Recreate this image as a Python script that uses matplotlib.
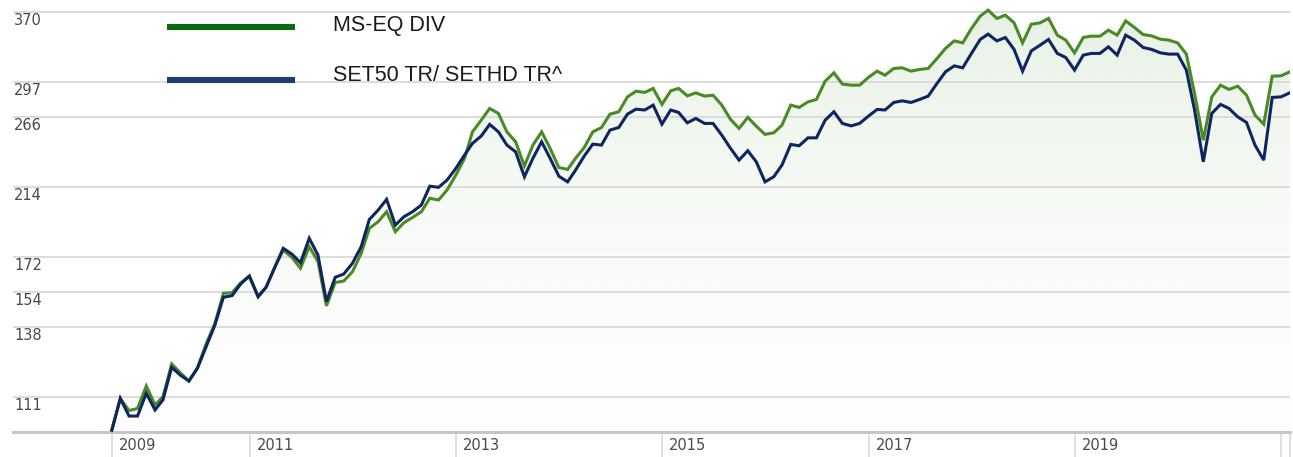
import numpy as np
import pandas as pd
import matplotlib
matplotlib.use("Agg")
import matplotlib.pyplot as plt
import matplotlib.dates as mdates
from matplotlib.lines import Line2D
from matplotlib.transforms import blended_transform_factory, offset_copy

# monthly values, Aug 2009 .. Jan 2021 (rebased to 100)
dates = pd.date_range("2009-08-31", periods=138, freq="ME")

ms_eq_div = [
    100.0, 110.4, 106.3, 107.0, 114.8, 108.2, 111.0, 123.0, 119.7, 116.6,
    121.5, 131.0, 139.6, 153.4, 153.7, 158.5, 161.9, 151.8, 156.3, 166.4,
    175.6, 171.6, 165.9, 177.5, 169.5, 147.5, 158.7, 159.4, 164.1, 173.8,
    188.0, 191.9, 198.0, 186.0, 191.3, 194.5, 198.0, 206.5, 205.4, 211.9,
    222.0, 234.0, 254.2, 263.7, 273.5, 269.3, 254.2, 246.4, 228.5, 243.9,
    254.2, 241.4, 227.4, 226.0, 234.0, 242.1, 254.2, 257.7, 268.7, 270.7,
    283.6, 288.7, 287.6, 291.2, 277.0, 289.0, 291.2, 284.5, 287.2, 284.3,
    285.1, 276.4, 264.3, 257.0, 266.0, 258.8, 252.2, 253.5, 259.6, 276.4,
    274.4, 279.2, 281.3, 297.9, 305.8, 295.2, 294.2, 294.2, 301.4, 307.4,
    303.5, 310.0, 310.6, 307.4, 309.0, 310.0, 319.8, 330.0, 337.9, 335.8,
    351.3, 365.1, 372.0, 362.5, 366.2, 357.5, 335.8, 356.0, 357.5, 362.5,
    344.0, 338.7, 325.5, 341.5, 342.9, 342.9, 349.4, 344.0, 359.7, 352.4,
    344.7, 343.2, 339.7, 338.7, 335.8, 324.2, 286.7, 247.7, 283.6, 294.2,
    290.3, 293.3, 285.1, 267.9, 260.4, 302.6, 302.9, 306.7,
]

set50_sethd = [
    100.0, 110.4, 104.5, 104.5, 112.2, 106.5, 109.9, 121.7, 118.8, 116.6,
    121.3, 129.8, 138.9, 151.5, 152.3, 157.9, 161.9, 151.8, 156.3, 166.4,
    176.6, 173.4, 168.8, 182.2, 172.9, 149.5, 161.3, 162.9, 168.5, 177.5,
    193.3, 199.0, 205.8, 189.9, 194.9, 198.0, 202.2, 214.5, 213.7, 218.6,
    226.7, 236.4, 245.2, 250.9, 260.2, 254.2, 243.9, 238.8, 220.9, 234.0,
    246.4, 234.0, 221.3, 217.4, 225.5, 235.7, 244.6, 243.9, 255.6, 257.7,
    268.7, 272.9, 272.2, 276.4, 260.4, 272.2, 270.1, 261.5, 265.1, 261.0,
    261.0, 251.6, 241.4, 232.7, 239.6, 231.5, 217.4, 220.9, 229.1, 244.4,
    243.4, 249.5, 249.5, 263.7, 270.7, 261.0, 259.0, 261.0, 267.0, 272.7,
    272.2, 278.7, 280.1, 278.7, 281.3, 284.3, 295.8, 306.7, 312.5, 310.6,
    324.9, 339.4, 345.1, 337.9, 341.5, 329.0, 307.4, 327.5, 333.4, 339.4,
    324.9, 320.8, 308.4, 323.2, 324.9, 324.9, 331.7, 323.2, 344.0, 338.7,
    331.0, 329.0, 325.5, 324.2, 324.2, 308.4, 272.2, 231.5, 269.3, 277.0,
    273.5, 266.4, 261.8, 243.9, 232.7, 283.1, 283.6, 287.2,
]

y_ticks = [111, 138, 154, 172, 214, 266, 297, 370]
x_tick_dates = ["2009-08-31", "2011-01-01", "2013-01-01", "2015-01-01",
                "2017-01-01", "2019-01-01", "2021-01-01"]
x_tick_labels = ["2009", "2011", "2013", "2015", "2017", "2019", ""]

W, H = 1293, 457
fig = plt.figure(figsize=(W / 100, H / 100), dpi=100)
ax = fig.add_axes([12.7 / W, 25.3 / H, (1290 - 12.7) / W, 431.7 / H])

ax.set_yscale("log")
ylo, yhi = 99.5, 384
ax.set_ylim(ylo, yhi)
xlo = mdates.date2num(pd.Timestamp("2008-09-14"))
xhi = mdates.date2num(pd.Timestamp("2021-02-01"))
ax.set_xlim(xlo, xhi)

for s in ["top", "left", "right"]:
    ax.spines[s].set_visible(False)
ax.spines["bottom"].set_color("#c6c6c6")
ax.spines["bottom"].set_linewidth(2.2)
ax.set_xticks([])
ax.set_yticks([])
ax.yaxis.set_minor_locator(matplotlib.ticker.NullLocator())

# gridlines + labels just under each line
ytr = blended_transform_factory(ax.transAxes, ax.transData)
for v in y_ticks:
    ax.axhline(v, color="#d9d9d9", lw=1.3, zorder=1)
    ax.text(0.001, v, str(v), transform=offset_copy(ytr, fig=fig, x=0, y=-1, units="dots"),
            ha="left", va="top", fontsize=10.5, color="#4a4a4a",
            family="DejaVu Sans", zorder=5)

# gradient fill under the green line
xd = mdates.date2num(dates)
poly = ax.fill_between(xd, ms_eq_div, ylo, facecolor="none", edgecolor="none")
top_c = np.array([0.905, 0.940, 0.893])
grad = np.linspace(0, 1, 256)[:, None]
img = top_c[None, None, :] * (1 - grad[..., None]) + np.ones(3) * grad[..., None]
img = np.repeat(img, 2, axis=1)
im = ax.imshow(img, extent=[xlo, xhi, ylo, yhi], origin="upper", aspect="auto",
               zorder=0.5, interpolation="bilinear")
im.set_clip_path(poly.get_paths()[0], transform=ax.transData)
ax.set_xlim(xlo, xhi)
ax.set_ylim(ylo, yhi)

ax.plot(xd, ms_eq_div, color="#4a8a26", lw=2.2, zorder=3, solid_joinstyle="miter")
ax.plot(xd, set50_sethd, color="#0f2560", lw=2.2, zorder=4, solid_joinstyle="miter")

# x separators and labels below the axis
xtr = blended_transform_factory(ax.transData, ax.transAxes)
sep_bottom = -25.3 / 431.7
sep_x = [mdates.date2num(pd.Timestamp(d)) for d in x_tick_dates] + [xhi - 0.5]
for x in sep_x:
    ax.add_line(Line2D([x, x], [0, sep_bottom], transform=xtr, color="#dadada",
                       lw=1.2, clip_on=False))
for d, lab in zip(x_tick_dates, x_tick_labels):
    if lab:
        ax.text(mdates.date2num(pd.Timestamp(d)), sep_bottom * 0.55, lab,
                transform=offset_copy(xtr, fig=fig, x=7, y=0, units="dots"),
                ha="left", va="center", fontsize=10.5, color="#4a4a4a",
                family="DejaVu Sans")

# legend drawn in figure pixels
def fy(py):
    return 1 - py / H

for py, ty, col, lab in [(26.7, 25, "#0b6a12", "MS-EQ DIV"),
                         (80, 75.5, "#1f3d6b", "SET50 TR/ SETHD TR^")]:
    fig.add_artist(Line2D([167 / W, 295 / W], [fy(py), fy(py)], color=col, lw=4.4,
                          solid_capstyle="butt"))
    fig.text(333 / W, fy(ty), lab, ha="left", va="center", fontsize=15.5,
             family="Liberation Sans", color="#1a1a1a")

fig.savefig("out.png", dpi=100)
